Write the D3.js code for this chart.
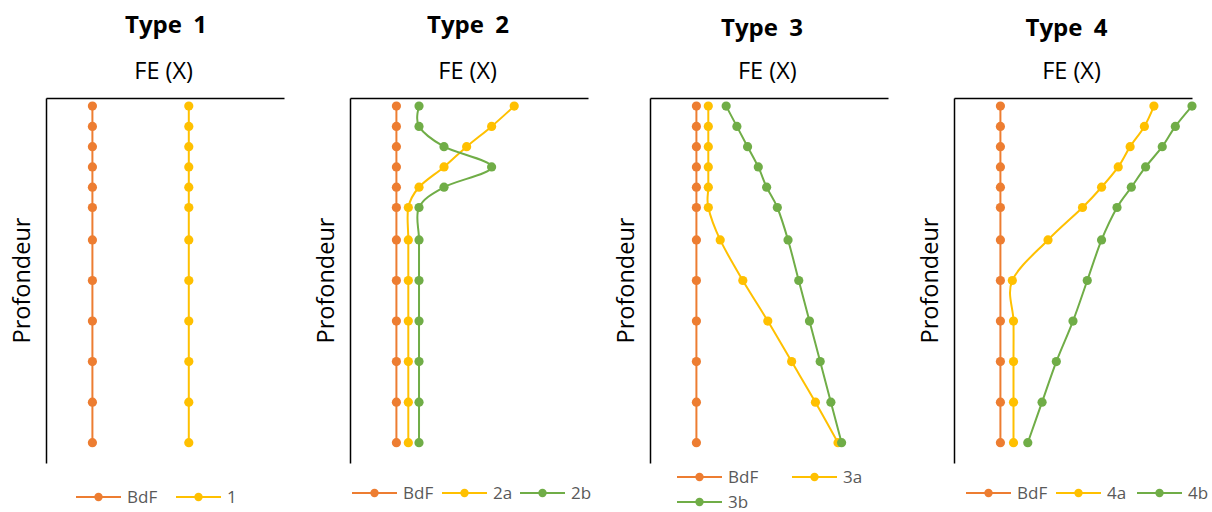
<!DOCTYPE html>
<html>
<head>
<meta charset="utf-8">
<script src="https://cdn.jsdelivr.net/npm/d3@7"></script>
<style>
  html, body { margin: 0; padding: 0; background: #fff; }
  svg { display: block; }
  text { font-family: "Open Sans", "Noto Sans", sans-serif; }
</style>
</head>
<body>
<svg id="chart" width="1212" height="512"></svg>
<script>
// ---------- DATA ----------
const depths = [0.2, 0.7, 1.2, 1.7, 2.2, 2.7, 3.5, 4.5, 5.5, 6.5, 7.5, 8.5];
const panelTitles = ["Type 1", "Type 2", "Type 3", "Type 4"];
const xAxisTitle = "FE (X)";
const yAxisTitle = "Profondeur";

const bdf  = [1.95, 1.95, 1.95, 1.95, 1.95, 1.95, 1.95, 1.95, 1.95, 1.95, 1.95, 1.95];
const s1   = [6, 6, 6, 6, 6, 6, 6, 6, 6, 6, 6, 6];
const s2a  = [6.9, 5.95, 4.9, 3.95, 2.9, 2.45, 2.45, 2.45, 2.45, 2.45, 2.45, 2.45];
const s2b  = [2.9, 2.9, 3.95, 5.95, 3.95, 2.9, 2.9, 2.9, 2.9, 2.9, 2.9, 2.9];
const s3a  = [2.45, 2.45, 2.45, 2.45, 2.45, 2.45, 2.95, 3.9, 4.95, 5.95, 6.95, 7.9];
const s3b  = [3.2, 3.65, 4.1, 4.55, 4.9, 5.35, 5.8, 6.25, 6.7, 7.15, 7.6, 8.05];
const s4a  = [8.4, 8.0, 7.4, 6.9, 6.2, 5.4, 3.95, 2.45, 2.5, 2.5, 2.5, 2.5];
const s4b  = [10, 9.3, 8.75, 8.05, 7.45, 6.85, 6.2, 5.6, 5.0, 4.3, 3.7, 3.1];

const seriesNames = [
  ["BdF", "1"],
  ["BdF", "2a", "2b"],
  ["BdF", "3a", "3b"],
  ["BdF", "4a", "4b"]
];
const seriesValues = [
  [bdf, s1],
  [bdf, s2a, s2b],
  [bdf, s3a, s3b],
  [bdf, s4a, s4b]
];
const xDomain = [0, 10];
const yDomain = [0, 9];

// ---------- STYLE / LAYOUT ----------
const colors = ["#ED7D31", "#FFC000", "#70AD47"];
const plotLefts = [46, 350, 650, 954];
const plotW = 238, plotTop = 98, plotBottom = 463;
const titleX = [166, 468, 762, 1066.5];
const titleY = [33.3, 33.3, 36, 36];
const feX = [163.7, 467.7, 767.3, 1071.5];
const legendPos = [
  [[76, 497], [176, 497]],
  [[352, 493], [442, 493], [520, 493]],
  [[677, 477], [792, 477], [677, 502]],
  [[966, 493], [1056, 493], [1137, 493]]
];

const svg = d3.select("#chart");

panelTitles.forEach((title, p) => {
  const left = plotLefts[p];
  const x = d3.scaleLinear().domain(xDomain).range([left, left + plotW]);
  const y = d3.scaleLinear().domain(yDomain).range([plotTop, plotBottom]);
  const g = svg.append("g");

  // axes (no ticks, just the lines)
  const ax = g.append("g").attr("transform", `translate(0,${plotTop})`)
    .call(d3.axisTop(x).tickValues([]).tickSizeOuter(0));
  const ay = g.append("g").attr("transform", `translate(${left},0)`)
    .call(d3.axisLeft(y).tickValues([]).tickSizeOuter(0));
  [ax, ay].forEach(a => a.select(".domain").attr("stroke", "#000").attr("stroke-width", 1.5));

  // title
  g.append("text").attr("x", titleX[p]).attr("y", titleY[p])
    .attr("text-anchor", "middle").attr("font-size", 24).attr("font-weight", "bold")
    .attr("word-spacing", 5).attr("fill", "#000").text(title);
  // x axis title
  g.append("text").attr("x", feX[p]).attr("y", 79)
    .attr("text-anchor", "middle").attr("font-size", 23.5).attr("fill", "#000").text(xAxisTitle);
  // y axis title
  g.append("text").attr("transform", `translate(${left - 16},280.5) rotate(-90)`)
    .attr("text-anchor", "middle").attr("font-size", 23.5).attr("fill", "#000").text(yAxisTitle);

  const line = d3.line()
    .x(d => x(d.v)).y(d => y(d.d))
    .curve(d3.curveCardinal.tension(0));

  seriesValues[p].forEach((vals, s) => {
    const data = vals.map((v, i) => ({ v, d: depths[i] }));
    const sg = g.append("g");
    sg.append("path").datum(data).attr("d", line)
      .attr("fill", "none").attr("stroke", colors[s]).attr("stroke-width", 2);
    sg.selectAll("circle").data(data).join("circle")
      .attr("cx", d => x(d.v)).attr("cy", d => y(d.d)).attr("r", 4.6)
      .attr("fill", colors[s]);
  });

  // legend
  seriesNames[p].forEach((name, s) => {
    const [lx, ly] = legendPos[p][s];
    const lg = g.append("g").attr("transform", `translate(${lx},${ly})`);
    lg.append("line").attr("x1", 0).attr("x2", 45).attr("y1", 0).attr("y2", 0)
      .attr("stroke", colors[s]).attr("stroke-width", 2);
    lg.append("circle").attr("cx", 22.5).attr("cy", 0).attr("r", 4.2).attr("fill", colors[s]);
    lg.append("text").attr("x", 51).attr("y", 0).attr("dy", "0.35em")
      .attr("font-size", 17).attr("fill", "#595959").text(name);
  });
});
</script>
</body>
</html>
